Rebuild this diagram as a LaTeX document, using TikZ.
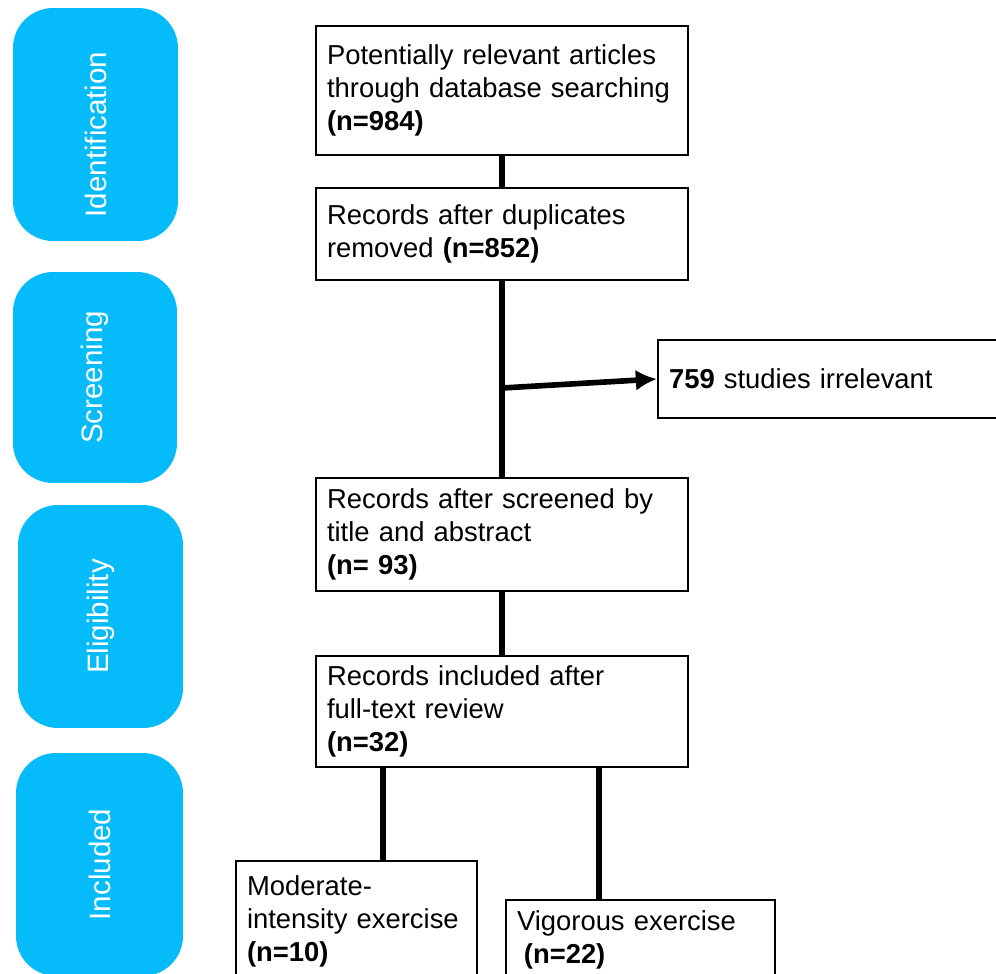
\documentclass[tikz,border=0pt]{standalone}
\usepackage{fontspec}
\setmainfont{Liberation Sans}
\usepackage{xcolor}
\usetikzlibrary{arrows.meta,positioning}
\definecolor{sky}{RGB}{5,187,250}

\begin{document}
\begin{tikzpicture}[x=0.02cm, y=-0.02cm, line width=3.2pt, >={Latex[length=12pt,width=12pt]}]
\tikzstyle{stage}=[fill=sky, rounded corners=0.8cm, text=white, rotate=90, font=\fontsize{16.8}{20}\selectfont]
\tikzstyle{record}=[draw=black, line width=1.3pt, fill=white, align=left, inner xsep=0.22cm, font=\fontsize{15.6}{18.8}\selectfont]
\useasboundingbox (0,0) rectangle (996,973);

% phases
\node[stage, minimum width=4.66cm, minimum height=3.3cm]  (ident)  at (95.5,124.5) {Identification\kern0.4cm};
\node[stage, minimum width=4.22cm, minimum height=3.28cm] (screen) at (95,377.5)   {Screening};
\node[stage, minimum width=4.46cm, minimum height=3.3cm]  (elig)   at (100.5,616.5) {Eligibility};
\node[stage, minimum width=4.46cm, minimum height=3.34cm] (incl)   at (99.5,864.5) {Included};

% records
\node[record, text width=7cm, minimum height=2.58cm] (found)   at (502,90.5)
  {Potentially relevant articles\\through database searching\\\textbf{(n=984)}};
\node[record, text width=7cm, minimum height=1.84cm] (dedup)   at (502,234)
  {Records after duplicates\\removed \textbf{(n=852)}};
\node[record, text width=6.8cm, minimum height=1.56cm] (irrel) at (839,379)
  {\textbf{759} studies irrelevant};
\node[record, text width=7cm, minimum height=2.26cm] (screened) at (502,534.5)
  {Records after screened by\\title and abstract\\\textbf{(n= 93)}};
\node[record, text width=7cm, minimum height=2.22cm] (fulltext) at (502,711.5)
  {Records included after\\full-text review\\\textbf{(n=32)}};
\node[record, text width=4.38cm, minimum height=2.4cm] (moderate) at (356.5,921)
  {Moderate-\\intensity exercise\\\textbf{(n=10)}};
\node[record, text width=4.94cm, minimum height=1.6cm] (vigorous) at (640.5,940)
  {Vigorous exercise\\\hspace{0.25em}\textbf{(n=22)}};

\coordinate (split) at (502,388);
\coordinate (left)  at (383,0);
\coordinate (right) at (599,0);

\draw (found) -- (dedup);
\draw (dedup) -- (screened);
\draw[->] (split) -- (irrel.west);
\draw (screened) -- (fulltext);
\draw (fulltext.south -| left)  -- (moderate.north -| left);
\draw (fulltext.south -| right) -- (vigorous.north -| right);
\end{tikzpicture}
\end{document}
